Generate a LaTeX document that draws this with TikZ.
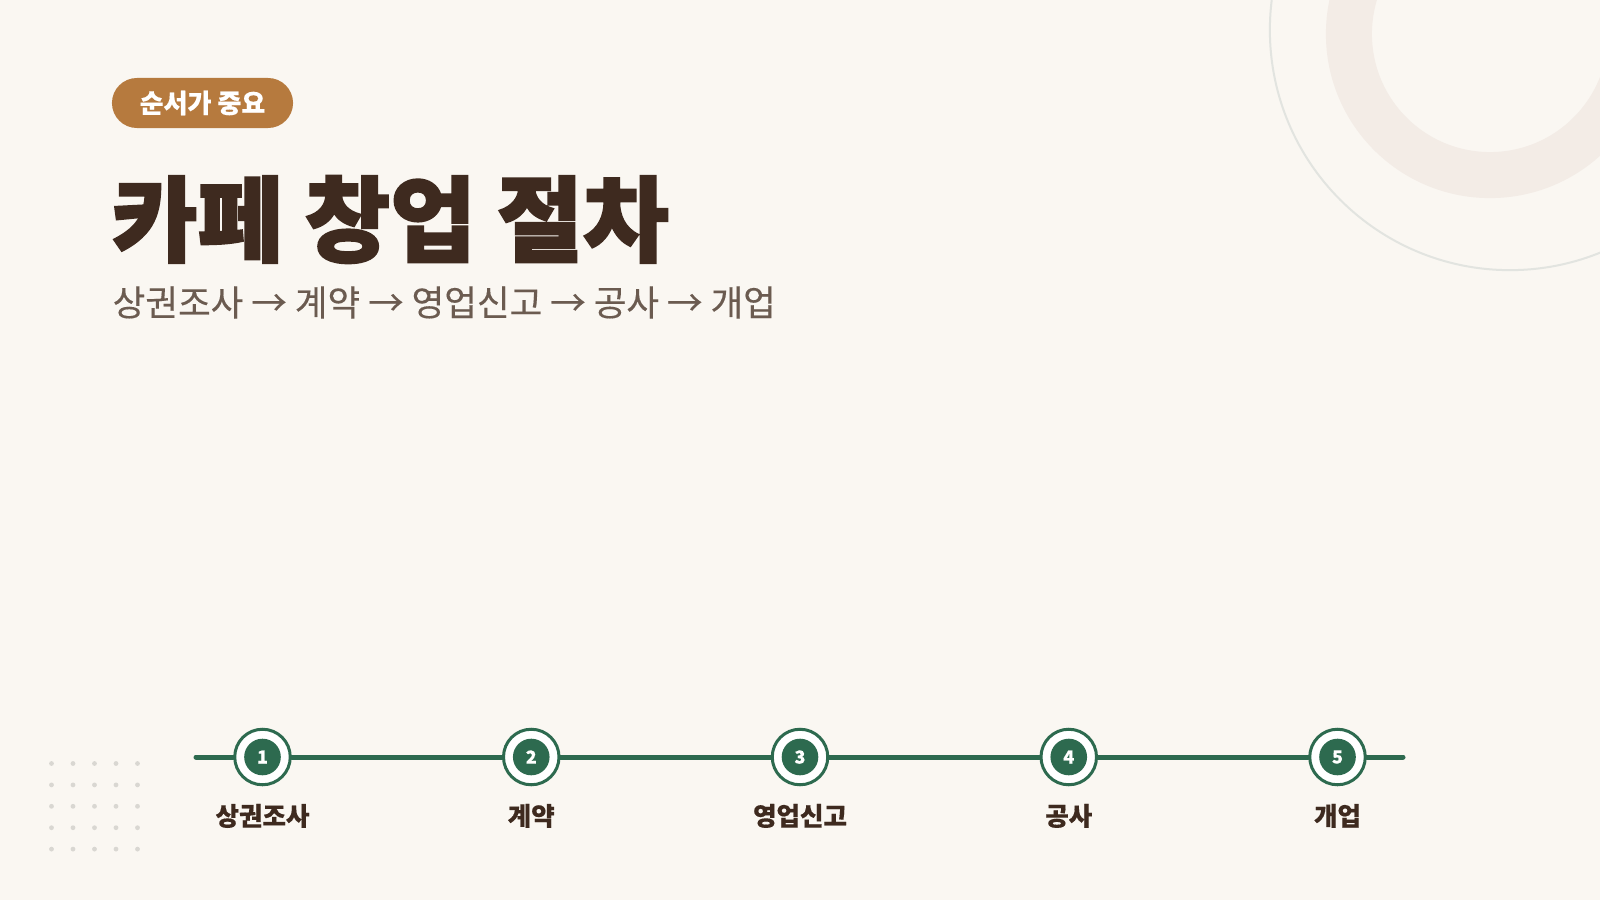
\documentclass[tikz,border=0pt]{standalone}
\usepackage{fontspec}
\setmainfont[BoldFeatures={FakeBold=0.4}]{Noto Sans CJK KR}
\newfontfamily\krheavy[BoldFeatures={FakeBold=2}]{Noto Sans CJK KR}
\newfontfamily\krmedium[FakeBold=0.3]{Noto Sans CJK KR}
\usetikzlibrary{positioning}

\definecolor{paper}{HTML}{FAF7F2}
\definecolor{tagbrown}{HTML}{B67A3E}
\definecolor{cocoa}{HTML}{3E2A1F}
\definecolor{mocha}{HTML}{6B5B50}
\definecolor{forest}{HTML}{2D6A4F}
\definecolor{latte}{HTML}{F3ECE6}
\definecolor{mist}{HTML}{E2E4E0}
\definecolor{speck}{HTML}{D9D7D2}

\begin{document}
\begin{tikzpicture}[
    x=0.01cm, y=-0.01cm,
    tag/.style={fill=tagbrown, text=white, rounded corners=0.25cm, minimum width=1.81cm, minimum height=0.5cm, inner sep=0, font=\fontsize{7.4}{9}\selectfont\bfseries},
    headline/.style={text=cocoa, inner sep=0, font=\krheavy\fontsize{26.5}{31}\selectfont\bfseries},
    subline/.style={text=mocha, inner sep=0, font=\krmedium\fontsize{10.1}{12}\selectfont},
    track/.style={forest, line width=0.05cm, line cap=round},
    stepring/.style={circle, draw=forest, line width=0.03cm, fill=white, minimum size=0.555cm, inner sep=0},
    stepdot/.style={circle, fill=forest, text=white, minimum size=0.366cm, inner sep=0, font=\fontsize{5.1}{6}\selectfont\bfseries},
    steplabel/.style={text=cocoa, inner sep=0, font=\fontsize{7.25}{9}\selectfont\bfseries}
  ]

  \fill[paper] (0,0) rectangle (1600,900);
  \clip (0,0) rectangle (1600,900);

  \draw[latte, line width=0.46cm] (1490,34) circle (1.41cm);
  \draw[mist, line width=0.02cm] (1510,30) circle (2.4cm);

  \foreach \r in {0,...,4} {
      \foreach \c in {0,...,4} {
          \fill[speck] (51.5+21.5*\c, 763.5+21.4*\r) circle (0.024cm);
        }
    }

  \node[tag] (tag) at (202.5,103) {순서가 중요};

  \node[headline, anchor=west] (title) at (111,219.5) {카페 창업 절차};

  \node[subline, anchor=west] (sub) at (112,302.5) {상권조사 → 계약 → 영업신고 → 공사 → 개업};

  \coordinate (tl-start) at (196,757);
  \coordinate (tl-end) at (1403,757);

  \foreach \i/\name in {1/상권조사, 2/계약, 3/영업신고, 4/공사, 5/개업} {
      \node[stepring] (s\i) at ({262.5+268.75*(\i-1)},757) {};
      \node[stepdot] (n\i) at (s\i) {\i};
      \node[steplabel, below=0.17cm of s\i] (l\i) {\name};
    }

  \draw[track] (tl-start) -- (s1) -- (s2) -- (s3) -- (s4) -- (s5) -- (tl-end);

\end{tikzpicture}
\end{document}
